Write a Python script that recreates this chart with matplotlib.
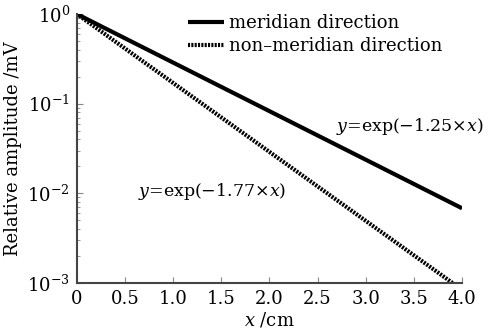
import matplotlib
matplotlib.use("Agg")
import matplotlib.pyplot as plt
import numpy as np

plt.rcParams['font.family'] = ['DejaVu Serif']
plt.rcParams['mathtext.fontset'] = 'dejavuserif'

# data (straight lines on log scale: endpoints)
meridian_x = [0.0, 4.0]
meridian_y = [1.0, 0.0068]
nonmeridian_x = [0.0, 3.9]
nonmeridian_y = [1.0, 0.001]

series_labels = ["meridian direction", "non\u2013meridian direction"]
x_ticks = [0, 0.5, 1.0, 1.5, 2.0, 2.5, 3.0, 3.5, 4.0]
x_ticklabels = ["0", "0.5", "1.0", "1.5", "2.0", "2.5", "3.0", "3.5", "4.0"]

fig = plt.figure(figsize=(4.99, 3.34), dpi=100)
ax = fig.add_axes([0.154, 0.153, 0.772, 0.805])

ax.plot(meridian_x, meridian_y, color='black', lw=3.0, solid_capstyle='butt',
        label=series_labels[0])
ax.plot(nonmeridian_x, nonmeridian_y, color='black', lw=3.0,
        linestyle=(0, (0.5, 0.3)), label=series_labels[1])

ax.set_yscale('log')
ax.set_xlim(0, 4.0)
ax.set_ylim(1e-3, 1.0)
ax.set_xticks(x_ticks)
ax.set_xticklabels(x_ticklabels)
ax.set_yticks([1e-3, 1e-2, 1e-1, 1.0])

for s in ['top', 'right']:
    ax.spines[s].set_visible(False)
for s in ['left', 'bottom']:
    ax.spines[s].set_color('#444444')
    ax.spines[s].set_linewidth(1.5)

ax.tick_params(axis='both', which='major', direction='in', length=4,
               color='#888888', labelsize=13, pad=5)
ax.tick_params(axis='y', which='minor', direction='in', length=2.5, color='#888888')

ax.set_xlabel("$x$ /cm", fontsize=13, labelpad=2)
ax.set_ylabel("Relative amplitude /mV", fontsize=13, labelpad=4)

ax.legend(loc='upper left', bbox_to_anchor=(0.27, 1.027), frameon=False,
          fontsize=13, handlelength=2.0, handletextpad=0.25, labelspacing=0.3,
          borderaxespad=0)

ax.text(2.69, 0.055, "$y$=exp(\u22121.25\u00d7$x$)", fontsize=12.5, va='center', ha='left')
ax.text(0.63, 0.0105, "$y$=exp(\u22121.77\u00d7$x$)", fontsize=12.5, va='center', ha='left')

fig.savefig("out.png", dpi=100)
